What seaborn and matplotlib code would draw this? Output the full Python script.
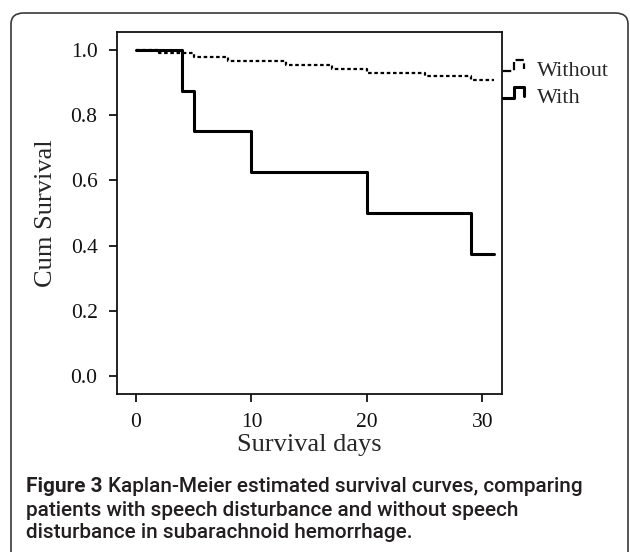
import pandas as pd
import matplotlib
matplotlib.use('Agg')
import matplotlib.pyplot as plt
import seaborn as sns
from matplotlib.lines import Line2D
from matplotlib.legend_handler import HandlerBase
from matplotlib.patches import FancyBboxPatch

#-----------------------------------------------------------------------
# data
#-----------------------------------------------------------------------
days_with = [0, 4, 5, 10, 20, 29, 31]
surv_with = [1.0, 0.875, 0.75, 0.625, 0.5, 0.375, 0.375]

days_without = [0, 2, 5, 8, 13, 17, 20, 25, 29, 31]
surv_without = [1.0, 0.990, 0.979, 0.966, 0.954, 0.943, 0.930, 0.920, 0.908, 0.908]

groups = ['Without', 'With']
x_ticks = [0, 10, 20, 30]
y_ticks = [0.0, 0.2, 0.4, 0.6, 0.8, 1.0]

df = pd.concat([
    pd.DataFrame({'day': days_without, 'surv': surv_without, 'group': 'Without'}),
    pd.DataFrame({'day': days_with, 'surv': surv_with, 'group': 'With'}),
], ignore_index=True)

#-----------------------------------------------------------------------
# style
#-----------------------------------------------------------------------
sns.set_style('ticks')
plt.rcParams['font.family'] = ['Liberation Serif', 'DejaVu Serif']
plt.rcParams['axes.linewidth'] = 1.3


class StepHandler(HandlerBase):
    # small step-shaped legend glyph like the SPSS output
    def create_artists(self, legend, orig_handle, xdescent, ydescent,
                       width, height, fontsize, trans):
        w, h = width, height
        xs = [0, 0.5 * w, 0.5 * w, w, w]
        ys = [0.3 * h, 0.3 * h, 1.0 * h, 1.0 * h, 0.45 * h]
        xs = [x - xdescent for x in xs]
        ys = [y - ydescent for y in ys]
        ln = Line2D(xs, ys, color=orig_handle.get_color(),
                    linestyle=orig_handle.get_linestyle(),
                    linewidth=orig_handle.get_linewidth(), transform=trans)
        return [ln]


fig = plt.figure(figsize=(6.3, 5.52), dpi=100)

# rounded outer frame of the figure panel
frame = FancyBboxPatch((11 / 630, -0.05), 617 / 630, 1 - 13 / 552 + 0.05,
                       boxstyle='round,pad=0,rounding_size=0.02',
                       transform=fig.transFigure, fill=False,
                       edgecolor='#3a3a3a', linewidth=1.2, clip_on=False)
fig.patches.append(frame)

ax = fig.add_axes([117 / 630, 1 - 394 / 552, 385 / 630, 362 / 552])

sns.lineplot(data=df, x='day', y='surv', hue='group', style='group',
             size='group', hue_order=groups, style_order=groups,
             size_order=groups, palette={'Without': 'black', 'With': 'black'},
             dashes={'Without': (1.6, 1.2), 'With': ''},
             sizes={'Without': 1.6, 'With': 2.2},
             drawstyle='steps-post', estimator=None, sort=True, ax=ax)

ax.set_xlim(-1.65, 31.7)
ax.set_ylim(-0.055, 1.055)
ax.set_xticks(x_ticks)
ax.set_yticks(y_ticks)
ax.set_yticklabels([f'{v:.1f}' for v in y_ticks])
ax.tick_params(axis='both', direction='out', length=6, width=1.3,
               labelsize=15.5, colors='#111111', pad=8)
for s in ax.spines.values():
    s.set_visible(True)
    s.set_color('#111111')

ax.set_xlabel('Survival days', fontsize=19)
ax.set_ylabel('Cum Survival', fontsize=19)
ax.xaxis.set_label_coords(0.5, (394 - 445) / 362, transform=ax.transAxes)
ax.yaxis.set_label_coords((46 - 117) / 385, 0.5, transform=ax.transAxes)
ax.xaxis.label.set_va('center')
ax.yaxis.label.set_va('center')

handles, labels = ax.get_legend_handles_labels()
ax.get_legend().remove()
fig.legend(handles, labels, handler_map={Line2D: StepHandler()},
           loc='upper left', bbox_to_anchor=(503 / 630, 1 - 60 / 552),
           frameon=False, fontsize=16, handlelength=0.95,
           handletextpad=0.6, labelspacing=0.3, borderpad=0,
           borderaxespad=0)

#-----------------------------------------------------------------------
# caption (font size fitted so the first line spans like the original)
#-----------------------------------------------------------------------
cap_font = ['Roboto', 'DejaVu Sans']
cap_color = '#231f20'
cap_weight = 500
lines = ['Kaplan-Meier estimated survival curves, comparing',
         'patients with speech disturbance and without speech',
         'disturbance in subarachnoid hemorrhage.']
line_y = [487, 510, 533]
cap_left = 26
first_width = 557

fig.canvas.draw()
r = fig.canvas.get_renderer()
probe_b = fig.text(0, 0, 'Figure 3 ', family=cap_font, fontsize=10, weight='bold')
probe_r = fig.text(0, 0, lines[0], family=cap_font, fontsize=10, weight=cap_weight)
w10 = probe_b.get_window_extent(r).width + probe_r.get_window_extent(r).width
probe_b.remove()
probe_r.remove()
cap_size = 10 * first_width / w10

bold = fig.text(cap_left / 630, 1 - line_y[0] / 552, 'Figure 3 ', family=cap_font,
                fontsize=cap_size, weight='bold', color=cap_color, va='center')
bw = bold.get_window_extent(r).width
fig.text((cap_left + bw) / 630, 1 - line_y[0] / 552, lines[0], family=cap_font,
         fontsize=cap_size, weight=cap_weight, color=cap_color, va='center')
for txt, yy in zip(lines[1:], line_y[1:]):
    fig.text(cap_left / 630, 1 - yy / 552, txt, family=cap_font, fontsize=cap_size,
             weight=cap_weight, color=cap_color, va='center')

plt.savefig('out.png', dpi=100)
